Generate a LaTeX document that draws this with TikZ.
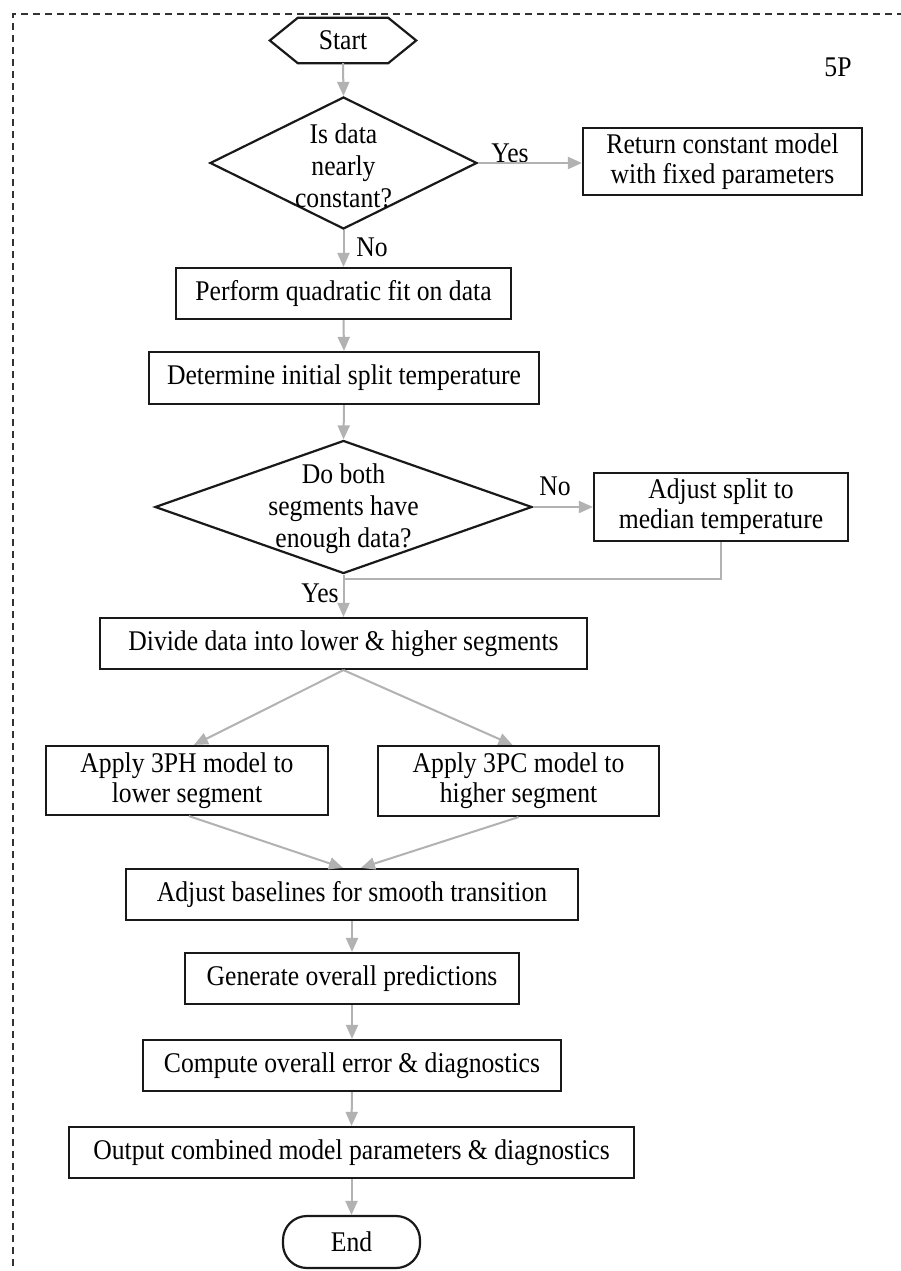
\documentclass[tikz,border=0pt]{standalone}
\usepackage{fontspec}
\setmainfont{Liberation Serif}[FakeStretch=0.9]
\usetikzlibrary{shapes.geometric,arrows.meta,calc}
\begin{document}
\begin{tikzpicture}[x=1pt,y=-1pt,
  every node/.style={font=\fontsize{28.5}{30}\selectfont, inner sep=0pt, text=black},
  proc/.style={draw=black!90, line width=2.2pt, minimum height=51pt, align=center},
  dec/.style={diamond, draw=black!90, line width=2.2pt},
  dectext/.style={align=center, font=\fontsize{28.5}{32}\selectfont},
  outline/.style={draw=black!90, line width=2.2pt},
  arr/.style={draw=black!30, line width=2pt, -{Triangle[length=14pt,width=12pt]}},
  lnk/.style={draw=black!30, line width=2pt},
  frame/.style={draw=black!80, line width=1.4pt, dash pattern=on 7pt off 5pt}
]
\useasboundingbox (0,0) rectangle (901,1271);
\fill[white] (0,0) rectangle (901,1271);
% frame
\draw[frame] (13,1290) -- (13,14) -- (920,14);
\node (tag) at (838,67) {5P};

% start
\node (start) at (343,40.5) [minimum width=146pt, minimum height=45pt] {Start};
\draw[outline] (start.west) -- ($(start.north west)+(28,0)$) -- ($(start.north east)+(-28,0)$)
  -- (start.east) -- ($(start.south east)+(-28,0)$) -- ($(start.south west)+(28,0)$) -- cycle;

% decision 1
\node[dec, minimum width=267pt, minimum height=132pt] (d1) at (343.5,163) {};
\node[dectext] (d1t) at (343.5,166) {Is data\\nearly\\constant?};
\node[proc, minimum width=279pt, minimum height=67pt] (ret) at (722.5,161.5) {Return constant model\\with fixed parameters};

\node[proc, minimum width=335pt] (perform) at (343.5,293.5) {Perform quadratic fit on data};
\node[proc, minimum width=390pt, minimum height=52pt] (determine) at (344,378) {Determine initial split temperature};

% decision 2
\node[dec, minimum width=377pt, minimum height=133pt] (d2) at (343.5,507) {};
\node[dectext] (d2t) at (343.5,509) {Do both\\segments have\\enough data?};
\node[proc, minimum width=254pt, minimum height=68pt] (adj) at (721,507) {Adjust split to\\median temperature};

\node[proc, minimum width=487pt] (divide) at (343.5,643.5) {Divide data into lower \& higher segments};
\node[proc, minimum width=282pt, minimum height=69pt] (ph) at (187,780.5) {Apply 3PH model to\\lower segment};
\node[proc, minimum width=281pt, minimum height=70pt] (pc) at (518.5,781) {Apply 3PC model to\\higher segment};
\node[proc, minimum width=452pt] (base) at (352,894.5) {Adjust baselines for smooth transition};
\node[proc, minimum width=334pt] (gen) at (352,978.5) {Generate overall predictions};
\node[proc, minimum width=418pt] (comp) at (352,1065.5) {Compute overall error \& diagnostics};
\node[proc, minimum width=565pt] (out) at (351.5,1152.5) {Output combined model parameters \& diagnostics};
\node[draw=black!90, line width=2.2pt, rounded corners=24pt, minimum width=137pt, minimum height=52pt] (end) at (351.5,1242) {End};

% labels
\node (yes1) at (510,153) {Yes};
\node (no1) at (372,247) {No};
\node (no2) at (555,486) {No};
\node (yes2) at (320,593) {Yes};

% connectors
\draw[arr] (start.south) -- (d1.north);
\draw[arr] (d1.east) -- (d1.east -| ret.west);
\draw[arr] (d1.south) -- (perform.north);
\draw[arr] (perform.south) -- (determine.north);
\draw[arr] (determine.south) -- (d2.north);
\draw[arr] (d2.east) -- (adj.west);
\coordinate (m) at (343.5,579);
\draw[lnk] (adj.south) |- (m);
\draw[arr] (d2.south) -- (divide.north);
\draw[arr] (divide.south) -- ($(ph.north)+(7,0)$);
\draw[arr] (divide.south) -- ($(pc.north)+(-6,0)$);
\draw[arr] ($(ph.south)+(2,0)$) -- ($(base.north)+(-9,0)$);
\draw[arr] (pc.south) -- ($(base.north)+(9,0)$);
\draw[arr] (base.south) -- (gen.north);
\draw[arr] (gen.south) -- (comp.north);
\draw[arr] (comp.south) -- (out.north);
\draw[arr] (out.south) -- (end.north);
\end{tikzpicture}
\end{document}
